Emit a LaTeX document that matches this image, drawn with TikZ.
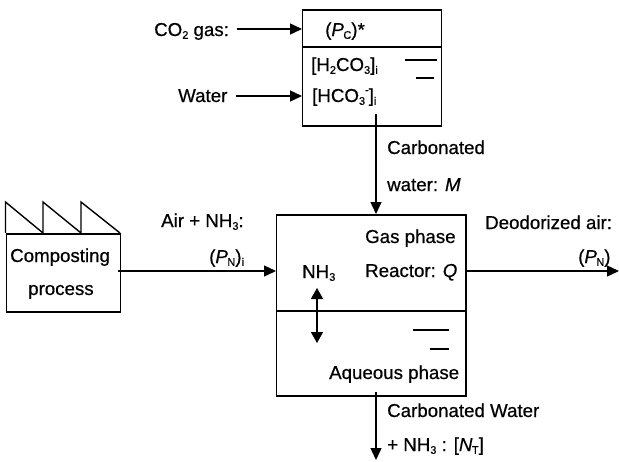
\documentclass[tikz,border=0pt]{standalone}
\usepackage{fontspec}
\setmainfont{Liberation Sans}[RawFeature={embolden=0.6}]
\usetikzlibrary{arrows.meta,calc}
\newcommand{\sbs}[1]{\raisebox{-0.15em}{\fontsize{11}{11}\selectfont #1}}
\newcommand{\sps}[1]{\raisebox{0.45em}{\fontsize{11}{11}\selectfont #1}}
\tikzset{
  x=1pt,y=-1pt,
  boxnode/.style={draw=black,line width=1.6pt,inner sep=0pt,anchor=north west},
  lbl/.style={inner sep=0pt,font=\fontsize{18.7}{20}\selectfont,text=black,anchor=base west},
  flow/.style={draw=black,line width=1.4pt,-{Triangle[length=12pt,width=11pt]},shorten >=0pt},
  dbl/.style={draw=black,line width=1.6pt,{Triangle[length=11pt,width=12pt]}-{Triangle[length=11pt,width=12pt]}},
  sep/.style={draw=black,line width=1.5pt},
  lvl/.style={draw=black,line width=1.3pt}
}
\begin{document}
\begin{tikzpicture}
\useasboundingbox (0,0) rectangle (619,461);
\node[boxnode,minimum width=139pt,minimum height=116pt] (top) at (301.5,9) {};
\node[boxnode,minimum width=189.5pt,minimum height=181pt] (reactor) at (275.5,214) {};
\node[boxnode,minimum width=114pt,minimum height=78pt] (factory) at (5.5,233) {};
% dividers
\coordinate (topdivL) at (302,47);
\coordinate (topdivR) at (441,47);
\draw[sep] (topdivL) -- (topdivR);
\coordinate (redivL) at (276,311);
\coordinate (redivR) at (465,311);
\draw[sep] (redivL) -- (redivR);
% roof
\coordinate (r0) at (5.5,202);
\coordinate (r1) at (43,233);
\coordinate (r2) at (43,202);
\coordinate (r3) at (81,233);
\coordinate (r4) at (81,202);
\coordinate (r5) at (120,233);
\coordinate (r6) at (5.5,233);
\draw[draw=black,line width=1.4pt,line join=miter] (r6) -- (r0) -- (r1) -- (r2) -- (r3) -- (r4) -- (r5);
% labels
\node[lbl] (co2) at (154,36) {CO\sbs{2} gas:};
\node[lbl] (water) at (178,102) {Water};
\node[lbl] (pc) at (325,36) {(\textit{P}\kern-0.5pt\sbs{C})*};
\node[lbl] (h2co3) at (311,71) {[H\sbs{2}CO\sbs{3}]\sbs{i}};
\node[lbl] (hco3) at (312,102) {[HCO\sbs{3}\sps{-}]\sbs{i}};
\node[lbl] (carb) at (387,154) {Carbonated};
\node[lbl] (wm) at (387,191) {water: \textit{M}};
\node[lbl] (comp) at (10,262) {Composting};
\node[lbl] (proc) at (28,295) {process};
\node[lbl] (air) at (161,227) {Air + NH\sbs{3}:};
\node[lbl] (pni) at (209,263) {(\textit{P}\kern-0.5pt\sbs{N})\sbs{i}};
\node[lbl] (gas) at (365,243) {Gas phase};
\node[lbl] (rq) at (365,277) {Reactor: \textit{Q}};
\node[lbl] (nh3) at (302,278) {NH\sbs{3}};
\node[lbl] (aq) at (329,379) {Aqueous phase};
\node[lbl] (deo) at (485,229) {Deodorized air:};
\node[lbl] (pn) at (578,263) {(\textit{P}\kern-0.5pt\sbs{N})};
\node[lbl] (cw) at (387,417) {Carbonated Water};
\node[lbl] (nt) at (387,451) {+ NH\sbs{3} : [\textit{N}\kern-0.5pt\sbs{T}]};
% free ends
\coordinate (co2s) at (237,29);
\coordinate (co2e) at (302,29);
\coordinate (waters) at (236,96);
\coordinate (watere) at (302,96);
\coordinate (ms) at (376,114);
\coordinate (me) at (376,214);
\coordinate (as) at (118,271);
\coordinate (ae) at (276,271);
\coordinate (ds) at (465.5,271);
\coordinate (de) at (619,271);
\coordinate (bs) at (376,392);
\coordinate (be) at (376,460);
\coordinate (nu) at (317,288);
\coordinate (nd) at (317,343);
\draw[flow] (co2s) -- (co2e);
\draw[flow] (waters) -- (watere);
\draw[flow] (ms) -- (me);
\draw[flow] (as) -- (ae);
\draw[flow] (ds) -- (de);
\draw[flow] (bs) -- (be);
\draw[dbl] (nu) -- (nd);
% water level marks
\coordinate (a1) at (405,60); \coordinate (a2) at (437,60);
\coordinate (b1) at (416,78); \coordinate (b2) at (434,78);
\coordinate (c1) at (413,330); \coordinate (c2) at (449,330);
\coordinate (d1) at (430,349); \coordinate (d2) at (449,349);
\draw[lvl] (a1) -- (a2);
\draw[lvl] (b1) -- (b2);
\draw[lvl] (c1) -- (c2);
\draw[lvl] (d1) -- (d2);
\end{tikzpicture}
\end{document}
